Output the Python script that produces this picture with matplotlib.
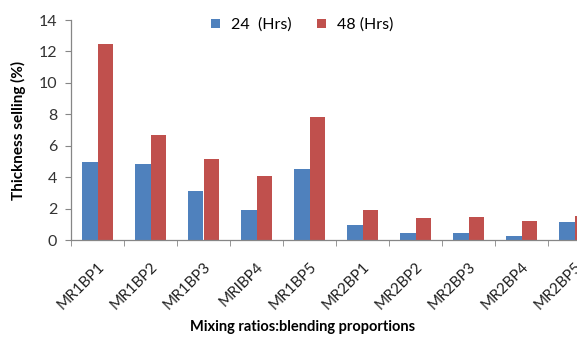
import matplotlib
matplotlib.use("Agg")
import matplotlib.pyplot as plt
import numpy as np

categories = ["MR1BP1", "MR1BP2", "MR1BP3", "MRIBP4", "MR1BP5",
              "MR2BP1", "MR2BP2", "MR2BP3", "MR2BP4", "MR2BP5"]
hrs_24 = [4.95, 4.82, 3.14, 1.91, 4.50, 0.93, 0.45, 0.45, 0.25, 1.13]
hrs_48 = [12.5, 6.68, 5.16, 4.09, 7.81, 1.93, 1.38, 1.46, 1.19, 1.53]
y_ticks = [0, 2, 4, 6, 8, 10, 12, 14]

plt.rcParams["font.family"] = ["Lato", "DejaVu Sans"]

W, H = 577, 338
fig = plt.figure(figsize=(W / 100, H / 100), dpi=100)
ax = fig.add_axes([71 / W, 98 / H, 530 / W, 220 / H])

x = np.arange(len(categories))
bw = 0.285
ax.bar(x - bw / 2, hrs_24, width=bw, color="#4F81BD", label="24  (Hrs)")
ax.bar(x + bw / 2, hrs_48, width=bw, color="#C0504D", label="48 (Hrs)")

ax.set_xlim(-0.5, len(categories) - 0.5)
ax.set_ylim(0, 14)
ax.set_yticks(y_ticks)
ax.set_xticks(x)
ax.set_xticklabels(categories, rotation=45, ha="right", rotation_mode="anchor")
ax.set_xticks(np.arange(-0.5, len(categories), 1.0), minor=True)

gray = "#868686"
for s in ("top", "right"):
    ax.spines[s].set_visible(False)
for s in ("left", "bottom"):
    ax.spines[s].set_color(gray)
    ax.spines[s].set_linewidth(0.9)

ax.tick_params(axis="y", direction="out", length=4, color=gray,
               labelsize=11.5, labelcolor="#333333", pad=6)
ax.tick_params(axis="x", which="major", length=0, labelsize=11,
               labelcolor="#222222", pad=14)
ax.tick_params(axis="x", which="minor", direction="out", length=4, color=gray)

ax.set_ylabel("Thickness selling (%)", fontsize=11, fontweight="bold",
              labelpad=9)
fig.text(303 / W, 1 - 327 / H, "Mixing ratios:blending proportions",
         ha="center", va="center", fontsize=10.5, fontweight="bold")

ax.legend(loc="center", bbox_to_anchor=(302 / W, 1 - 25 / H),
          bbox_transform=fig.transFigure, ncol=2, frameon=False,
          fontsize=11.5, handlelength=0.55, handleheight=0.55,
          handletextpad=0.7, columnspacing=1.6)

fig.savefig("out.png", dpi=100)
